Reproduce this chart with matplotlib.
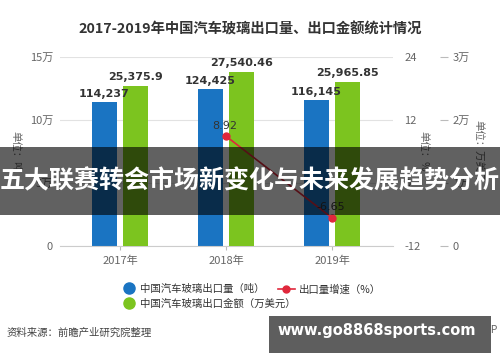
import numpy as np
import matplotlib
matplotlib.use("Agg")
import matplotlib.pyplot as plt
from matplotlib.lines import Line2D
from matplotlib.patches import Rectangle

plt.rcParams['font.family'] = ['Noto Sans CJK SC', 'DejaVu Sans']

years = ['2017年', '2018年', '2019年']
volume = [114237, 124425, 116145]          # 吨
amount = [25375.9, 27540.46, 25965.85]     # 万美元
growth = [np.nan, 8.92, -6.65]             # %
volume_labels = ['114,237', '124,425', '116,145']
amount_labels = ['25,375.9', '27,540.46', '25,965.85']
growth_labels = ['', '8.92', '-6.65']

blue = '#1a74c2'
green = '#7cc41f'
red = '#e0283c'
tick_c = '#666666'

fig = plt.figure(figsize=(5, 3.62), dpi=100)
ax = fig.add_axes([60 / 500, 1 - 246 / 362, 333 / 500, 189 / 362])
ax3 = ax.twinx()   # amount axis (green bars)
ax2 = ax.twinx()   # growth axis (line), drawn on top

x = np.arange(len(years))
w = 0.236
off = 0.146

ax.bar(x - off, volume, w, color=blue, zorder=2)
ax3.bar(x + off, amount, w, color=green, zorder=2)
ax2.plot(x, growth, color=red, lw=1.2, marker='o', ms=5, zorder=5)

ax.set_xlim(-0.566, 2.575)
ax.set_ylim(0, 150000)
ax.set_yticks([0, 50000, 100000, 150000])
ax.set_yticklabels(['0', '5万', '10万', '15万'])
ax.grid(axis='y', color='#e2e2e2', lw=0.8, zorder=0)
ax.set_axisbelow(True)
ax.set_xticks(x)
ax.set_xticklabels(years)
ax.tick_params(axis='y', length=0, pad=5, labelsize=8, labelcolor=tick_c)
ax.tick_params(axis='x', length=3, color='#bbbbbb', pad=4, labelsize=8, labelcolor=tick_c)
for s in ['top', 'right', 'left']:
    ax.spines[s].set_visible(False)
ax.spines['bottom'].set_color('#cccccc')
ax.set_ylabel('单位：吨', rotation=270, fontsize=7.5, color=tick_c, labelpad=10)
ax.yaxis.set_label_coords(-0.15, 0.5)

ax2.set_ylim(-12, 24)
ax2.set_yticks([-12, 0, 12, 24])
ax2.set_yticklabels(['-12', '0', '12', '24'])
ax2.tick_params(axis='y', length=0, pad=8, labelsize=8, labelcolor=tick_c)
for s in ax2.spines.values():
    s.set_visible(False)
ax2.set_ylabel('单位：%', rotation=270, fontsize=7.5, color=tick_c)
ax2.yaxis.set_label_coords(1.105, 0.5)

ax3.set_ylim(0, 30000)
ax3.set_yticks([0, 10000, 20000, 30000])
ax3.set_yticklabels(['0', '1万', '2万', '3万'])
ax3.spines['right'].set_position(('axes', 1.142))
for s in ax3.spines.values():
    s.set_visible(False)
ax3.tick_params(axis='y', length=6, color='#bbbbbb', pad=3, labelsize=8, labelcolor=tick_c)
ax3.set_ylabel('单位：万美元', rotation=270, fontsize=7.5, color=tick_c)
ax3.yaxis.set_label_coords(1.27, 0.5)

# all value labels on the top axes so bars don't hide them
for i in range(len(years)):
    ax2.annotate(volume_labels[i], (x[i] - off, volume[i]), xycoords=ax.transData,
                 xytext=(0, 2), textcoords='offset points', ha='center', va='bottom',
                 fontsize=8, fontweight='bold', color='#333333', family='DejaVu Sans')
    ax2.annotate(amount_labels[i], (x[i] + off, amount[i]), xycoords=ax3.transData,
                 xytext=(0, 3), textcoords='offset points', ha='center', va='bottom',
                 fontsize=8, fontweight='bold', color='#333333', family='DejaVu Sans')
    if growth_labels[i]:
        ax2.annotate(growth_labels[i], (x[i], growth[i]), xytext=(-1, 4),
                     textcoords='offset points', ha='center', va='bottom',
                     fontsize=8, color='#333333', family='DejaVu Sans', zorder=6)

fig.text(0.5, 1 - 30 / 362, '2017-2019年中国汽车玻璃出口量、出口金额统计情况',
         ha='center', va='center', fontsize=10.3, fontweight='bold', color='#333333')

bar_handles = [
    Line2D([], [], ls='none', marker='o', ms=8, color=blue),
    Line2D([], [], ls='none', marker='o', ms=8, color=green),
]
fig.legend(bar_handles, ['中国汽车玻璃出口量（吨）', '中国汽车玻璃出口金额（万美元）'],
           loc='upper left', bbox_to_anchor=(124 / 500, 1 - 284 / 362),
           frameon=False, fontsize=7.5, handlelength=1.0, handletextpad=0.5,
           labelspacing=0.45, borderaxespad=0, borderpad=0, labelcolor='#333333')
fig.legend([Line2D([], [], color=red, lw=1.2, marker='o', ms=5)], ['出口量增速（%）'],
           loc='upper left', bbox_to_anchor=(278 / 500, 1 - 284 / 362),
           frameon=False, fontsize=7.5, handlelength=1.6, handletextpad=0.4,
           borderaxespad=0, borderpad=0, labelcolor='#333333')

fig.text(7 / 500, 1 - 333 / 362, '资料来源：前瞻产业研究院整理',
         ha='left', va='center', fontsize=7.5, color='#444444')
fig.text(498 / 500, 1 - 330 / 362, '©前瞻经济学人APP',
         ha='right', va='center', fontsize=7.5, color='#666666')

# overlay banner
fig.patches.append(Rectangle((0, 1 - 215 / 362), 1, 68 / 362, transform=fig.transFigure,
                             facecolor='black', alpha=0.62, zorder=10))
fig.text(0.5, 1 - 181 / 362, '五大联赛转会市场新变化与未来发展趋势分析',
         ha='center', va='center', fontsize=18, fontweight='bold', color='white', zorder=11)

# bottom-right site box
fig.patches.append(Rectangle((269 / 500, 1 - 353 / 362), 222 / 500, 37 / 362,
                             transform=fig.transFigure, facecolor='#5e5e5e', zorder=10))
fig.text(377 / 500, 1 - 330 / 362, 'www.go8868sports.com', ha='center', va='center',
         fontsize=10.5, fontweight='bold', color='white', family='DejaVu Sans', zorder=11)

fig.savefig('out.png', dpi=100)
